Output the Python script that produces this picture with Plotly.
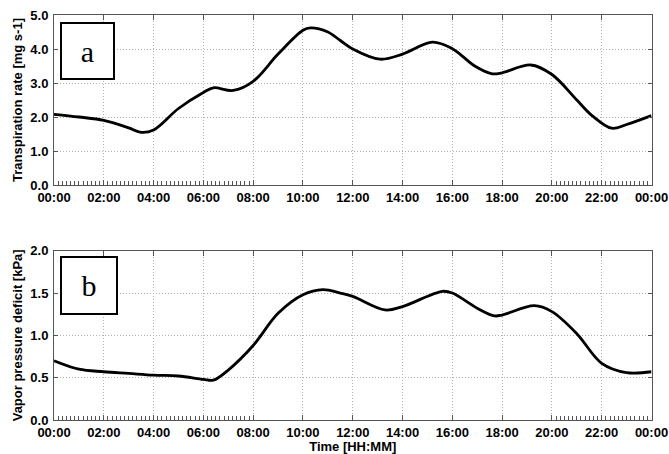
import plotly.graph_objects as go

# ---- data ----
trans_hours = [0, 1, 2, 3, 3.5, 4, 5, 6, 6.4, 7.2, 8, 9, 10, 10.3, 11, 11.5, 12, 13.1, 14,
               15.2, 16, 16.9, 17.6, 18, 19.15, 20, 21, 21.6, 22.4, 23, 24]
trans_vals = [2.08, 2.0, 1.9, 1.68, 1.55, 1.62, 2.25, 2.72, 2.86, 2.78, 3.05, 3.85, 4.55, 4.62,
              4.5, 4.25, 4.0, 3.7, 3.85, 4.2, 4.01, 3.5, 3.27, 3.3, 3.53, 3.25, 2.5, 2.05, 1.67,
              1.78, 2.04]

vpd_hours = [0, 1, 2, 3, 4, 5, 6, 6.4, 7, 8, 9, 10, 10.8, 11.5, 12, 13.3, 14, 15.6, 16, 17,
             17.7, 18, 19.3, 20, 21, 22, 23, 24]
vpd_vals = [0.70, 0.60, 0.57, 0.55, 0.53, 0.52, 0.48, 0.47, 0.59, 0.88, 1.26, 1.48, 1.54, 1.50,
            1.46, 1.30, 1.34, 1.52, 1.50, 1.32, 1.23, 1.24, 1.35, 1.28, 1.02, 0.67, 0.56, 0.57]

x_tickvals = list(range(0, 25, 2))
x_ticktext = ["00:00", "02:00", "04:00", "06:00", "08:00", "10:00", "12:00",
              "14:00", "16:00", "18:00", "20:00", "22:00", "00:00"]
trans_ticks = [0, 1, 2, 3, 4, 5]
trans_ticktext = ["0.0", "1.0", "2.0", "3.0", "4.0", "5.0"]
vpd_ticks = [0, 0.5, 1.0, 1.5, 2.0]
vpd_ticktext = ["0.0", "0.5", "1.0", "1.5", "2.0"]

minor_vals = [m / 6 for m in range(0, 8 * 6 + 1) if m % 12 != 0] + \
             [m / 6 for m in range(20 * 6, 24 * 6 + 1) if m % 12 != 0]

W, H = 669, 454


def px_x(p):
    return p / W


def px_y(p):
    return 1 - p / H


xdom = [px_x(54), px_x(651.5)]
top_dom = [px_y(185), px_y(15)]
bot_dom = [px_y(420), px_y(250.7)]

fig = go.Figure()
fig.add_trace(go.Scatter(x=trans_hours, y=trans_vals, mode="lines",
                         line=dict(color="black", width=2.8, shape="spline", smoothing=1.0),
                         xaxis="x", yaxis="y", showlegend=False, hoverinfo="skip"))
fig.add_trace(go.Scatter(x=vpd_hours, y=vpd_vals, mode="lines",
                         line=dict(color="black", width=2.8, shape="spline", smoothing=1.0),
                         xaxis="x2", yaxis="y2", showlegend=False, hoverinfo="skip"))
# invisible carriers for the minor-tick overlay axes
fig.add_trace(go.Scatter(x=trans_hours, y=trans_vals, mode="lines", opacity=0,
                         xaxis="x3", yaxis="y", showlegend=False, hoverinfo="skip"))
fig.add_trace(go.Scatter(x=vpd_hours, y=vpd_vals, mode="lines", opacity=0,
                         xaxis="x4", yaxis="y2", showlegend=False, hoverinfo="skip"))

tickfont = dict(family="Liberation Sans, Arial, sans-serif", size=13, color="black", weight="bold")
framecol = "#555555"
gridcol = "#b4b4b4"
gdash = "1px,2px"

xcommon = dict(range=[0, 24], tickmode="array", tickvals=x_tickvals, ticktext=x_ticktext,
               showline=True, linecolor=framecol, linewidth=1, mirror="ticks",
               ticks="inside", ticklen=5, tickcolor=framecol, tickwidth=1,
               showgrid=True, gridcolor=gridcol, griddash=gdash, gridwidth=1,
               zeroline=False, tickfont=tickfont, ticklabelstandoff=0, automargin=False)
ycommon = dict(showline=True, linecolor=framecol, linewidth=1, mirror="ticks",
               ticks="inside", ticklen=4, tickcolor=framecol, tickwidth=1,
               showgrid=True, gridcolor=gridcol, griddash=gdash, gridwidth=1,
               zeroline=False, tickfont=tickfont, tickmode="array", automargin=False,
               ticklabelstandoff=2)
minorax = dict(range=[0, 24], tickmode="array", tickvals=minor_vals, showticklabels=False,
               ticks="inside", ticklen=4, tickcolor=framecol, tickwidth=1,
               showgrid=False, zeroline=False, showline=False, automargin=False)

titlefont = dict(family="Liberation Sans, Arial, sans-serif", size=13, color="black", weight="bold")

fig.update_layout(
    width=W, height=H,
    margin=dict(l=0, r=0, t=0, b=0),
    paper_bgcolor="white", plot_bgcolor="white",
    xaxis=dict(domain=xdom, anchor="y", **xcommon),
    yaxis=dict(domain=top_dom, anchor="x", range=[0, 5], tickvals=trans_ticks,
               ticktext=trans_ticktext,
               title=dict(text="Transpiration rate [mg s-1]", font=titlefont, standoff=4),
               **ycommon),
    xaxis2=dict(domain=xdom, anchor="y2",
                title=dict(text="Time [HH:MM]", font=titlefont, standoff=0),
                **xcommon),
    yaxis2=dict(domain=bot_dom, anchor="x2", range=[0, 2], tickvals=vpd_ticks,
                ticktext=vpd_ticktext,
                title=dict(text="Vapor pressure deficit [kPa]", font=titlefont, standoff=4),
                **ycommon),
    xaxis3=dict(domain=xdom, anchor="y", overlaying="x", **minorax),
    xaxis4=dict(domain=xdom, anchor="y2", overlaying="x2", **minorax),
)

labelfont = dict(family="Liberation Serif, Times New Roman, serif", size=30, color="black")
fig.add_annotation(xref="paper", yref="paper", x=px_x(60), y=px_y(22), xanchor="left",
                   yanchor="top", text="a", showarrow=False, font=labelfont,
                   bgcolor="white", bordercolor="black", borderwidth=2, borderpad=0,
                   width=51, height=54)
fig.add_annotation(xref="paper", yref="paper", x=px_x(60), y=px_y(256), xanchor="left",
                   yanchor="top", text="b", showarrow=False, font=labelfont,
                   bgcolor="white", bordercolor="black", borderwidth=2, borderpad=0,
                   width=54, height=55)

fig.write_html(
    "out.html",
    config={"displayModeBar": False},
    post_script="document.body.style.margin='0px';document.body.style.overflow='hidden';",
)
